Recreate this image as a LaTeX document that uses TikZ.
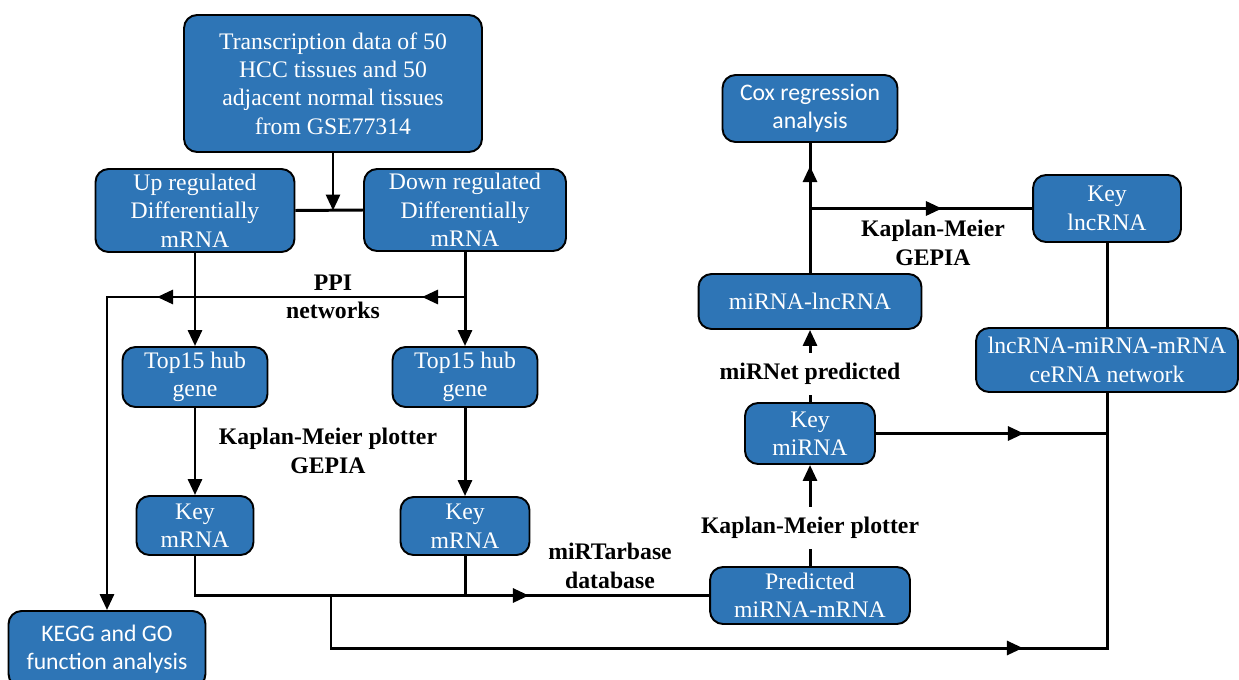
\documentclass[tikz,border=0pt]{standalone}
\usepackage{fontspec}
\setmainfont{Liberation Serif}
\newfontfamily\calibrifont{Carlito}
\usepackage{tikz}
\usetikzlibrary{calc}
\usetikzlibrary{arrows.meta}
\usetikzlibrary{decorations.markings}
\usepackage{color}
\definecolor{boxblue}{RGB}{46, 117, 182}

\begin{document}
\begin{tikzpicture}[x=0.02cm, y=-0.02cm,
        >={Triangle[length=0.32cm, width=0.28cm]},
        blockbox/.style={draw=black, line width=1.1pt, fill=boxblue, rounded corners=0.26cm,
                         text=white, align=center, inner sep=0pt,
                         font=\fontsize{13.5}{16.2}\selectfont},
        sansbox/.style={blockbox, font=\calibrifont\fontsize{13.5}{16.2}\selectfont},
        steplabel/.style={align=center, inner xsep=1pt, inner ysep=0.2cm,
                          font=\fontsize{13.5}{16.2}\selectfont\bfseries},
        link/.style={line width=1.7pt},
        midtip/.style={postaction={decorate, decoration={markings,
                       mark=at position #1 with {\arrow{>}}}}}]
            \clip (0, 0) rectangle (1239, 679);
            % Left branch: mRNA
            \node[blockbox, minimum width=5.96cm, minimum height=2.74cm] (gse)   at (333, 83.5)
                 {Transcription data of 50\\HCC tissues and 50\\adjacent normal tissues\\from GSE77314};
            \node[blockbox, minimum width=3.98cm, minimum height=1.66cm] (upreg) at (195, 210.5)
                 {Up regulated\\Differentially\\mRNA};
            \node[blockbox, minimum width=4.04cm, minimum height=1.64cm] (dnreg) at (465, 210)
                 {Down regulated\\Differentially\\mRNA};
            \node[blockbox, minimum width=2.90cm, minimum height=1.20cm] (hubl)  at (195, 377)
                 {Top15 hub\\gene};
            \node[blockbox, minimum width=2.90cm, minimum height=1.20cm] (hubr)  at (465, 377)
                 {Top15 hub\\gene};
            \node[blockbox, minimum width=2.34cm, minimum height=1.18cm] (keyml) at (195, 525.5)
                 {Key\\mRNA};
            \node[blockbox, minimum width=2.58cm, minimum height=1.16cm] (keymr) at (465, 526)
                 {Key\\mRNA};
            \node[sansbox,  minimum width=3.94cm, minimum height=1.52cm] (kegg)  at (107, 649)
                 {KEGG and GO\\function analysis};
            % Right branch: miRNA / lncRNA
            \node[blockbox, minimum width=4.00cm, minimum height=1.14cm] (pred)  at (810, 595.5)
                 {Predicted\\miRNA-mRNA};
            \node[blockbox, minimum width=2.60cm, minimum height=1.22cm] (keymi) at (810, 433.5)
                 {Key\\miRNA};
            \node[blockbox, minimum width=4.46cm, minimum height=1.10cm] (milnc) at (810, 301.5)
                 {miRNA-lncRNA};
            \node[sansbox,  minimum width=3.50cm, minimum height=1.34cm] (cox)   at (810, 108.5)
                 {Cox regression\\analysis};
            \node[blockbox, minimum width=2.96cm, minimum height=1.34cm] (keylnc) at (1107, 208.5)
                 {Key\\lncRNA};
            \node[blockbox, minimum width=5.24cm, minimum height=1.28cm] (cerna) at (1107, 360)
                 {lncRNA-miRNA-mRNA\\ceRNA network};
            % Labels
            \node[steplabel] (ppi)    at (333, 297)   {PPI\\networks};
            \node[steplabel] (kmgl)   at (328, 451)   {Kaplan-Meier plotter\\GEPIA};
            \node[steplabel] (mirt)   at (610, 566)   {miRTarbase\\database};
            \node[steplabel] (kmgr)   at (933, 243)   {Kaplan-Meier\\GEPIA};
            \node[steplabel] (mirnet) at (810, 374)   {miRNet predicted};
            \node[steplabel] (kmp)    at (810, 528)   {Kaplan-Meier plotter};
            % Helper points
            \coordinate (ppir)  at (dnreg.south |- ppi);
            \coordinate (ppil)  at (kegg.north |- ppi);
            \coordinate (split) at (pred.west -| 331, 0);
            \coordinate (lowl)  at (331, 648);
            \coordinate (lowr)  at (cerna.south |- lowl);
            \coordinate (rmid)  at (keymi.east -| cerna.south);
            \coordinate (fork)  at (milnc.north |- keylnc.west);
            % Connectors, left
            \draw[link, ->] (gse.south) -- (gse.south |- upreg.east);
            \draw[link]     (upreg.east) -- (dnreg.west);
            \draw[link, ->] (upreg.south) -- (hubl.north);
            \draw[link, ->] (dnreg.south) -- (hubr.north);
            \draw[link, ->, midtip=0.86cm, midtip=6.16cm] (ppir) -- (ppil) -- (kegg.north);
            \draw[link, ->] (hubl.south) -- (keyml.north);
            \draw[link, ->] (hubr.south) -- (keymr.north);
            \draw[link, midtip=7.47cm] (keyml.south) |- (pred.west);
            \draw[link]     (keymr.south) -- (keymr.south |- pred.west);
            \draw[link, midtip=14.89cm] (split) -- (lowl) -- (lowr) -- (cerna.south);
            % Connectors, right
            \draw[link]     (pred.north) -- (kmp.south);
            \draw[link, ->] (kmp.north) -- (keymi.south);
            \draw[link]     (keymi.north) -- (mirnet.south);
            \draw[link, ->] (mirnet.north) -- (milnc.south);
            \draw[link, midtip=2.14cm] (milnc.north) -- (cox.south);
            \draw[link, midtip=2.64cm] (fork) -- (keylnc.west);
            \draw[link]     (keylnc.south) -- (cerna.north);
            \draw[link, midtip=2.96cm] (keymi.east) -- (rmid);
        \end{tikzpicture}
\end{document}
